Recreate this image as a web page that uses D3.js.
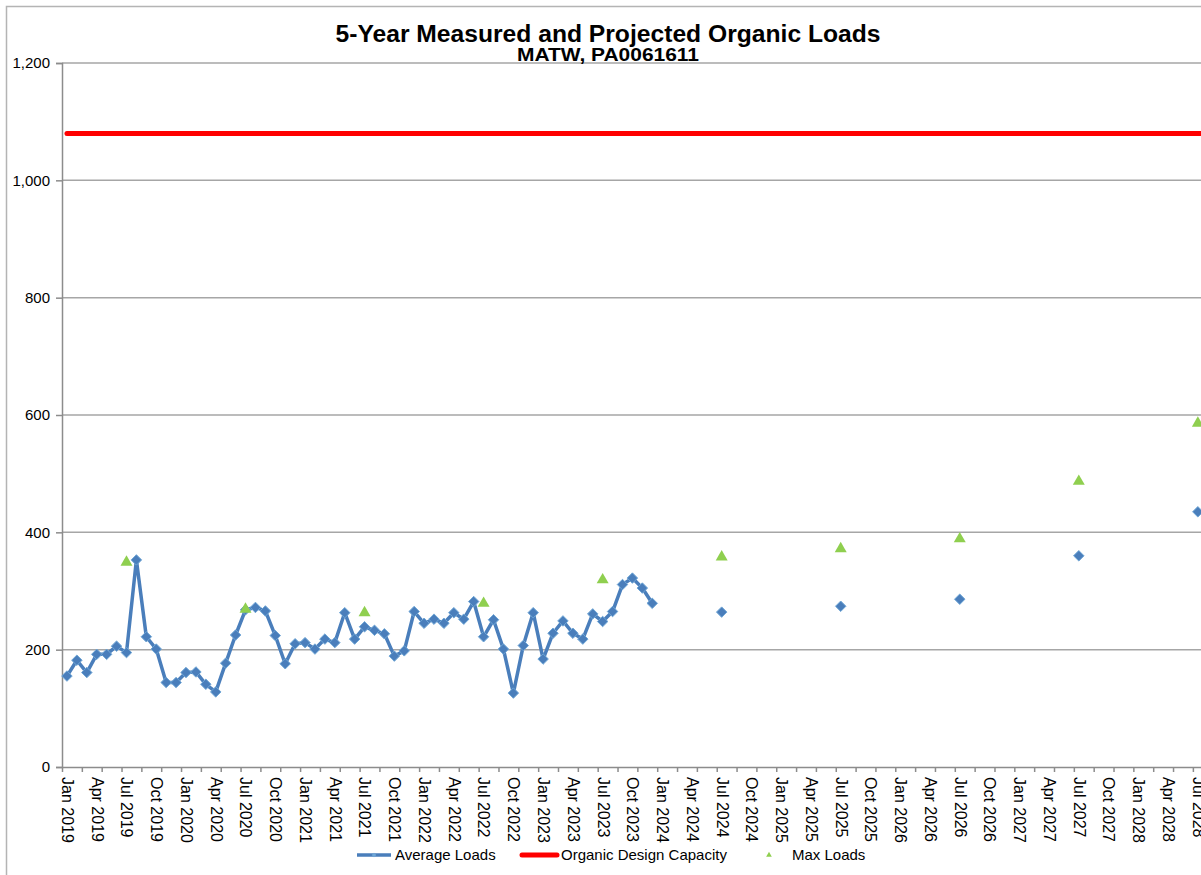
<!DOCTYPE html>
<html>
<head>
<meta charset="utf-8">
<script src="https://cdn.jsdelivr.net/npm/d3@7"></script>
<style>
  body { margin: 0; background: #fff; }
  svg { display: block; font-family: "Liberation Sans", Arial, sans-serif; }
</style>
</head>
<body>
<div id="chart"></div>
<script>
// 月份序号：0 = Jan 2019
const monthNames = ['Jan', 'Feb', 'Mar', 'Apr', 'May', 'Jun', 'Jul', 'Aug', 'Sep', 'Oct', 'Nov', 'Dec'];
const startYear = 2019;
const totalMonths = 120;

// 实测月平均负荷 Jan 2019 - Dec 2023
const measuredAvg = [
  155, 182, 161, 192, 192, 206, 195, 353, 222, 201, 144, 144,
  161, 162, 141, 128, 177, 225, 268, 272, 266, 224, 176, 210,
  212, 201, 218, 212, 263, 218, 239, 233, 227, 189, 198, 265,
  245, 252, 245, 263, 252, 282, 222, 251, 201, 126, 207, 263,
  184, 228, 249, 228, 218, 261, 248, 265, 311, 322, 305, 279
];
// 预测平均负荷（每年七月）
const projMonths = [66, 78, 90, 102, 114];
const projAvg = [264, 274, 286, 360, 435];
// 最大负荷（每年七月）
const maxMonths = [6, 18, 30, 42, 54, 66, 78, 90, 102, 114];
const maxLoads = [349, 269, 263, 279, 319, 358, 372, 389, 487, 586];
const designCapacity = 1080;
const yTicks = [0, 200, 400, 600, 800, 1000, 1200];

const width = 1201, height = 875;
const monthW = 9.92;
const plotLeft = 62, plotTop = 63, plotBottom = 767;

const svg = d3.select('#chart').append('svg')
  .attr('width', width)
  .attr('height', height);

// 外框
svg.append('rect')
  .attr('x', 6.5).attr('y', 6.5)
  .attr('width', 1400).attr('height', 1000)
  .attr('fill', 'none')
  .attr('stroke', '#b4b4b4')
  .attr('stroke-width', 1.5);

const x = d3.scaleLinear().domain([0, totalMonths]).range([plotLeft, plotLeft + totalMonths * monthW]);
const y = d3.scaleLinear().domain([0, 1200]).range([plotBottom, plotTop]);
const xc = (m) => x(m + 0.5);

// 网格线
svg.append('g')
  .selectAll('line')
  .data(yTicks.filter(d => d > 0))
  .enter()
  .append('line')
  .attr('x1', plotLeft).attr('x2', x(totalMonths))
  .attr('y1', d => y(d)).attr('y2', d => y(d))
  .attr('stroke', '#a6a6a6')
  .attr('stroke-width', 1.5);

// y 轴
const yAxis = svg.append('g')
  .attr('transform', `translate(${plotLeft},0)`)
  .call(d3.axisLeft(y).tickValues(yTicks).tickSize(6).tickPadding(6).tickFormat(d3.format(',')));
yAxis.select('.domain').attr('stroke', '#8c8c8c').attr('stroke-width', 1.5);
yAxis.selectAll('.tick line').attr('stroke', '#8c8c8c').attr('stroke-width', 1.5);
yAxis.selectAll('text').style('font-size', '15px').attr('fill', '#000');

// x 轴刻度（每两个月）
const tickMonths = d3.range(0, totalMonths + 1, 2);
const xTicks = svg.append('g')
  .attr('transform', `translate(0,${plotBottom})`)
  .call(d3.axisBottom(x).tickValues(tickMonths).tickSize(5).tickSizeOuter(0).tickFormat(''));
xTicks.select('.domain').attr('stroke', '#8c8c8c').attr('stroke-width', 1.5);
xTicks.selectAll('.tick line').attr('stroke', '#8c8c8c').attr('stroke-width', 1.5);

// x 轴标签（每季度）
const labelMonths = d3.range(0, totalMonths, 3);
const xLabels = svg.append('g')
  .attr('transform', `translate(0,${plotBottom})`)
  .call(d3.axisBottom(x).tickValues(labelMonths.map(m => m + 0.5)).tickSize(0)
    .tickFormat(d => {
      const m = Math.floor(d);
      return `${monthNames[m % 12]} ${startYear + Math.floor(m / 12)}`;
    }));
xLabels.select('.domain').remove();
xLabels.selectAll('text')
  .attr('transform', 'rotate(90)')
  .attr('x', 10)
  .attr('y', 0)
  .attr('dy', '0.35em')
  .style('text-anchor', 'start')
  .style('font-size', '16px')
  .attr('fill', '#000');

// 设计能力线
svg.append('line')
  .attr('x1', xc(0)).attr('x2', xc(totalMonths - 1))
  .attr('y1', y(designCapacity)).attr('y2', y(designCapacity))
  .attr('stroke', '#ff0000')
  .attr('stroke-width', 5)
  .attr('stroke-linecap', 'round');

// 平均负荷折线
const line = d3.line().x((d, i) => xc(i)).y(d => y(d));
svg.append('path')
  .datum(measuredAvg)
  .attr('d', line)
  .attr('fill', 'none')
  .attr('stroke', '#4a7ebb')
  .attr('stroke-width', 3.5)
  .attr('stroke-linejoin', 'round');

const diamond = d3.symbol().type(d3.symbolDiamond2).size(70);
const avgPoints = measuredAvg.map((v, i) => ({ m: i, v }))
  .concat(projAvg.map((v, i) => ({ m: projMonths[i], v })));
svg.append('g')
  .selectAll('path')
  .data(avgPoints)
  .enter()
  .append('path')
  .attr('d', diamond)
  .attr('transform', d => `translate(${xc(d.m)},${y(d.v)})`)
  .attr('fill', '#4a7ebb')
  .attr('stroke', '#6fa6d6')
  .attr('stroke-width', 1);

// 最大负荷
const tri = d3.symbol().type(d3.symbolTriangle).size(62);
svg.append('g')
  .selectAll('path')
  .data(maxLoads)
  .enter()
  .append('path')
  .attr('d', tri)
  .attr('transform', (d, i) => `translate(${xc(maxMonths[i])},${y(d)})`)
  .attr('fill', '#8fcf4f');

// 标题
svg.append('text')
  .attr('x', 608).attr('y', 42)
  .attr('text-anchor', 'middle')
  .attr('textLength', 545)
  .attr('lengthAdjust', 'spacingAndGlyphs')
  .style('font-size', '23px')
  .style('font-weight', 'bold')
  .text('5-Year Measured and Projected Organic Loads');
svg.append('text')
  .attr('x', 608).attr('y', 61)
  .attr('text-anchor', 'middle')
  .attr('textLength', 182)
  .attr('lengthAdjust', 'spacingAndGlyphs')
  .style('font-size', '18px')
  .style('font-weight', 'bold')
  .text('MATW, PA0061611');

// 图例
const legendY = 855;
const lg = svg.append('g');
lg.append('line').attr('x1', 357).attr('x2', 391).attr('y1', legendY).attr('y2', legendY)
  .attr('stroke', '#4a7ebb').attr('stroke-width', 3.5);
lg.append('path').attr('d', d3.symbol().type(d3.symbolDiamond2).size(14))
  .attr('transform', `translate(374,${legendY})`).attr('fill', '#6fa6d6');
lg.append('text').attr('x', 395).attr('y', legendY + 5).style('font-size', '15px').text('Average Loads');
lg.append('line').attr('x1', 522).attr('x2', 557).attr('y1', legendY).attr('y2', legendY)
  .attr('stroke', '#ff0000').attr('stroke-width', 5).attr('stroke-linecap', 'round');
lg.append('text').attr('x', 561).attr('y', legendY + 5).style('font-size', '15px').text('Organic Design Capacity');
lg.append('path').attr('d', d3.symbol().type(d3.symbolTriangle).size(14))
  .attr('transform', `translate(769,${legendY})`).attr('fill', '#8fcf4f');
lg.append('text').attr('x', 792).attr('y', legendY + 5).style('font-size', '15px').text('Max Loads');
</script>
</body>
</html>
